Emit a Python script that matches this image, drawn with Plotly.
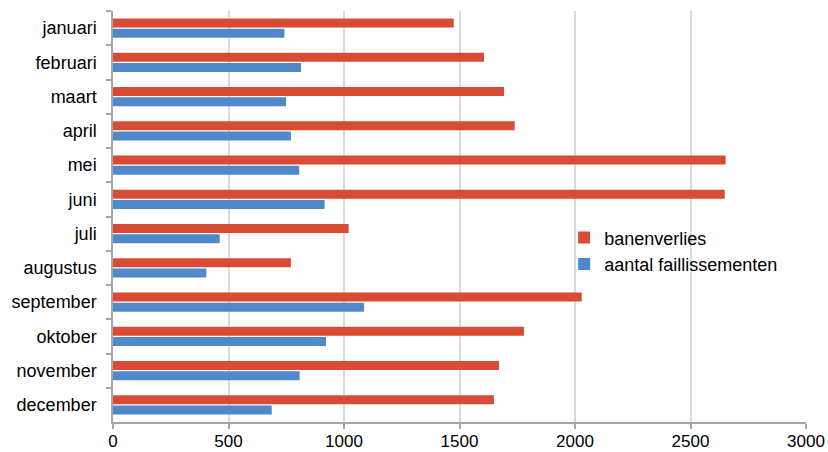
import plotly.graph_objects as go

months = ["januari", "februari", "maart", "april", "mei", "juni", "juli",
          "augustus", "september", "oktober", "november", "december"]
banenverlies = [1475, 1606, 1693, 1739, 2652, 2648, 1020, 770, 2029, 1779, 1671, 1649]
faillissementen = [742, 814, 749, 770, 806, 916, 462, 404, 1087, 922, 808, 687]
x_ticks = [0, 500, 1000, 1500, 2000, 2500, 3000]

fig = go.Figure()
fig.add_trace(go.Bar(y=months, x=banenverlies, orientation="h", name="banenverlies",
                     marker=dict(color="#D84B34", line=dict(width=0))))
fig.add_trace(go.Bar(y=months, x=faillissementen, orientation="h", name="aantal faillissementen",
                     marker=dict(color="#4F89C9", line=dict(width=0))))

fig.update_layout(
    width=828, height=452,
    margin=dict(l=113, r=22, t=11, b=30, autoexpand=False),
    paper_bgcolor="white", plot_bgcolor="white",
    barmode="group", bargap=0.41, bargroupgap=0.1,
    font=dict(family="Liberation Sans, Arial, sans-serif", size=18, color="#000"),
    legend=dict(x=0.651, y=0.493, xanchor="left", yanchor="top",
                font=dict(size=18), bgcolor="rgba(0,0,0,0)", tracegroupgap=0,
                itemwidth=30),
    showlegend=True,
)
fig.update_xaxes(range=[0, 3000], tickvals=x_ticks, ticktext=[str(v) for v in x_ticks],
                 showgrid=True, gridcolor="#D9D9D9", gridwidth=1.5, automargin=False,
                 zeroline=False, showline=True, linecolor="#A6A6A6", linewidth=1.5,
                 ticks="outside", ticklen=5, tickcolor="#A6A6A6", tickwidth=1.5,
                 tickfont=dict(size=17), ticklabelstandoff=-2)
fig.update_yaxes(autorange="reversed", showline=True, linecolor="#A6A6A6", linewidth=1.5,
                 ticks="outside", tickson="boundaries", ticklen=5, tickcolor="#A6A6A6",
                 tickwidth=1.5, showgrid=False, tickfont=dict(size=18), ticklabelstandoff=11,
                 automargin=False)

fig.write_html("out.html", config={"displayModeBar": False},
               post_script="document.body.style.margin='0';document.body.style.padding='0';")
